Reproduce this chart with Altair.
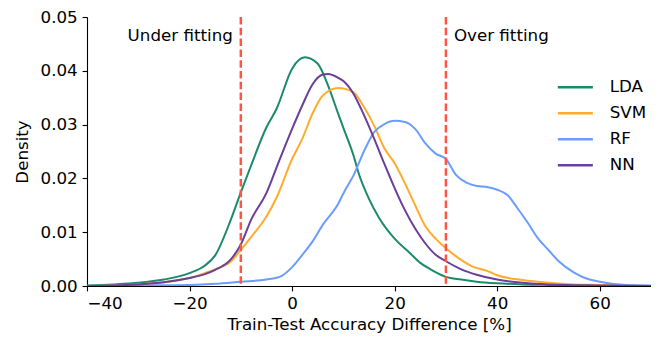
import altair as alt
import pandas as pd

models = ["LDA", "SVM", "RF", "NN"]
colors = ["#1b8a6b", "#ffab2e", "#6b9cff", "#6a3f9a"]

lda_x = [-40, -35, -30, -25, -20, -17, -15, -12, -10, -8, -5, -3, 0, 2.5, 5, 7, 9, 10, 12, 13, 15, 17, 20, 23, 25, 27, 30, 33, 36, 40, 45, 50, 60, 70]
lda_y = [0.0001, 0.0003, 0.0006, 0.0012, 0.0024, 0.0038, 0.0057, 0.0122, 0.0174, 0.0224, 0.0295, 0.0330, 0.0404, 0.0425, 0.0413, 0.0373, 0.0320, 0.0294, 0.0242, 0.0209, 0.0162, 0.0126, 0.0088, 0.0061, 0.0043, 0.0031, 0.0017, 0.0012, 0.0008, 0.0005, 0.0003, 0.0002, 0.0001, 0.0]

svm_x = [-40, -35, -30, -25, -20, -17, -15, -12, -10, -8, -5, -3, 0, 2, 4, 6, 9, 10, 12, 14, 16, 18, 20, 22, 24, 26, 28, 30, 32, 35, 38, 40, 45, 50, 55, 60, 70]
svm_y = [0.0, 0.0001, 0.0003, 0.0007, 0.0015, 0.0024, 0.0031, 0.0045, 0.0067, 0.0091, 0.0129, 0.0165, 0.0236, 0.0274, 0.0321, 0.0354, 0.0368, 0.0367, 0.0360, 0.0333, 0.0298, 0.0256, 0.0228, 0.0191, 0.0150, 0.0111, 0.0088, 0.0070, 0.0055, 0.0037, 0.0028, 0.0020, 0.0011, 0.0006, 0.0003, 0.0002, 0.0]

rf_x = [-40, -30, -20, -15, -10, -5, -2, 0, 2, 4, 6, 9, 10, 12, 14, 16, 18, 20, 22, 24, 26, 28, 30, 32, 34, 36, 38, 40, 42, 44, 46, 48, 50, 52, 55, 58, 60, 65, 70]
rf_y = [0.0, 0.0001, 0.0002, 0.0004, 0.0008, 0.0012, 0.0019, 0.0035, 0.0058, 0.0083, 0.0114, 0.0153, 0.0172, 0.0206, 0.0250, 0.0286, 0.0301, 0.0307, 0.0305, 0.0292, 0.0265, 0.0246, 0.0236, 0.0206, 0.0192, 0.0186, 0.0184, 0.0179, 0.0169, 0.0144, 0.0117, 0.0088, 0.0067, 0.0046, 0.0025, 0.0012, 0.0008, 0.0002, 0.0001]

nn_x = [-40, -35, -30, -25, -20, -17, -15, -12, -10, -8, -5, -3, 0, 2, 4, 6, 7, 9, 10, 12, 14, 16, 18, 20, 22, 24, 26, 28, 30, 33, 36, 40, 45, 50, 60, 70]
nn_y = [0.0, 0.0001, 0.0003, 0.0007, 0.0015, 0.0022, 0.0030, 0.0049, 0.0077, 0.0123, 0.0173, 0.0221, 0.0292, 0.0336, 0.0375, 0.0393, 0.0394, 0.0387, 0.0381, 0.0357, 0.0318, 0.0274, 0.0227, 0.0182, 0.0141, 0.0107, 0.0079, 0.0058, 0.0046, 0.0031, 0.0021, 0.0012, 0.0006, 0.0003, 0.0001, 0.0]

thresholds = [-10, 30]
annotation_labels = ["Under fitting", "Over fitting"]
annotation_y = 0.0465

x_ticks = [-40, -20, 0, 20, 40, 60]
y_ticks = [0.0, 0.01, 0.02, 0.03, 0.04, 0.05]

rows = []
for name, xs, ys in [("LDA", lda_x, lda_y), ("SVM", svm_x, svm_y), ("RF", rf_x, rf_y), ("NN", nn_x, nn_y)]:
    for xv, yv in zip(xs, ys):
        rows.append({"model": name, "x": xv, "density": yv})
df = pd.DataFrame(rows)

FS = 16.7
FONT = "DejaVu Sans"

x_enc = alt.X(
    "x:Q",
    scale=alt.Scale(domain=[-40, 70], nice=False, zero=False),
    axis=alt.Axis(values=x_ticks, title="Train-Test Accuracy Difference [%]", format="d", titlePadding=4),
)
y_enc = alt.Y(
    "density:Q",
    scale=alt.Scale(domain=[0, 0.05], nice=False),
    axis=alt.Axis(values=y_ticks, title="Density", format=".2f", titlePadding=9),
)

lines = alt.Chart(df).mark_line(strokeWidth=2, interpolate="monotone", clip=True).encode(
    x=x_enc,
    y=y_enc,
    color=alt.Color(
        "model:N",
        scale=alt.Scale(domain=models, range=colors),
        sort=models,
        legend=alt.Legend(
            title=None,
            orient="none",
            legendX=480,
            legendY=62,
            symbolType="M-3.5,0H3.5",
            symbolSize=100,
            symbolStrokeWidth=2.5,
            labelFontSize=FS,
            labelFont=FONT,
            labelColor="black",
            labelOffset=26,
            rowPadding=8,
            padding=0,
        ),
    ),
)

rule_df = pd.DataFrame({"x": thresholds})
rules = alt.Chart(rule_df).mark_rule(color="#ff5544", strokeWidth=2.5, strokeDash=[7.5, 3.3]).encode(x="x:Q")

under_df = pd.DataFrame({"x": [thresholds[0]], "y": [annotation_y], "label": [annotation_labels[0]]})
over_df = pd.DataFrame({"x": [thresholds[1]], "y": [annotation_y], "label": [annotation_labels[1]]})

under = alt.Chart(under_df).mark_text(align="right", baseline="middle", dx=-8, fontSize=FS, font=FONT, color="black").encode(
    x="x:Q", y="y:Q", text="label:N"
)
over = alt.Chart(over_df).mark_text(align="left", baseline="middle", dx=8, fontSize=FS, font=FONT, color="black").encode(
    x="x:Q", y="y:Q", text="label:N"
)

chart = alt.layer(lines, rules, under, over).properties(
    width=564,
    height=269,
    autosize=alt.AutoSizeParams(type="none"),
    padding={"left": 79, "top": 9, "right": 0, "bottom": 52},
    background="white",
).configure_view(stroke=None).configure_axis(
    grid=False,
    domainColor="black",
    domainWidth=1.1,
    tickColor="black",
    tickWidth=1.1,
    tickSize=4.9,
    labelPadding=4.9,
    labelFont=FONT,
    labelFontSize=FS,
    labelColor="black",
    titleFont=FONT,
    titleFontSize=FS,
    titleFontWeight="normal",
    titleColor="black",
)

chart.save("out.html", embed_options={"renderer": "svg", "actions": False})
